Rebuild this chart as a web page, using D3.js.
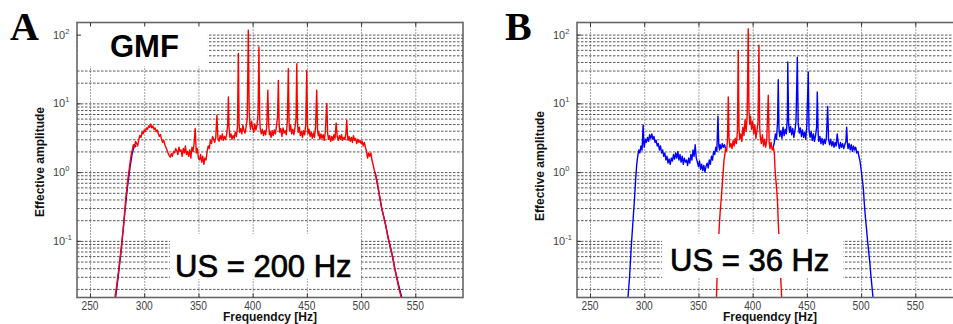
<!DOCTYPE html>
<html>
<head>
<meta charset="utf-8">
<script src="https://cdn.jsdelivr.net/npm/d3@7"></script>
<style>
  body { margin: 0; background: #fff; }
  svg { display: block; }
</style>
</head>
<body>
<script>
// axis setup
const freqDomain = [238, 594];
const ampDomain = [0.015, 150];
const freqTicks = [250, 300, 350, 400, 450, 500, 550];
const ampExponents = [-1, 0, 1, 2];

// panel A (US = 200 Hz) : [frequency Hz, effective amplitude]
const panelARed = [
  [273,0.015],[275,0.025],[277,0.045],[279,0.085],[281,0.17],[283,0.42],[285,0.8],[287,1.4],[288,1.8],[289,2.1],
  [290,2.5],[291,2.3],[292,2.8],[293,2.6],[294,2.4],[295,3.0],[296,3.4],[297,3.2],[298,3.8],[299,3.6],
  [300,4.1],[301,3.9],[302,4.4],[303,4.2],[304,4.7],[305,4.5],[306,5.0],[307,4.4],[308,4.7],[309,4.2],
  [310,4.4],[311,3.9],[312,4.1],[313,3.6],[314,3.3],[315,3.5],[316,3.0],[317,2.7],[318,2.9],[319,2.5],
  [320,2.3],[321,2.1],[322,1.9],[323,1.75],[324,1.65],[325,1.85],[326,1.7],[327,2.0],[328,1.9],[329,2.2],
  [330,2.05],[331,1.8],[332,2.3],[333,2.0],[334,2.1],[335,1.7],[336,2.2],[337,1.9],[338,2.4],[339,1.8],
  [340,2.0],[341,1.7],[342,2.1],[343,1.6],[344,2.3],[345,2.0],[346,2.6],[347,4.3],[348,1.9],[349,2.2],
  [350,1.6],[351,1.5],[352,1.8],[353,1.4],[354,1.7],[355,1.3],[356,1.6],[357,1.5],[358,2.0],[359,2.4],
  [360,2.2],[361,2.9],[362,2.6],[363,3.3],[364,3.0],[365,2.7],[366,3.2],[367,6.7],[368,3.1],[369,2.8],
  [370,3.4],[371,3.0],[372,3.6],[373,2.9],[374,3.3],[375,3.0],[376,3.5],[377,5.0],[377.6,12.4],[378.2,4.5],
  [379,3.2],[380,3.6],[381,3.0],[382,3.4],[383,3.1],[384,3.8],[385,3.3],[386,4.5],[386.8,53],[387.5,5.0],
  [388,3.8],[389,4.3],[390,3.6],[391,4.8],[392,4.0],[393,3.7],[394,4.6],[395,6.0],[396,116],[396.8,7.5],
  [397.5,5.0],[398,4.2],[399,5.5],[400,4.4],[401,3.8],[402,5.0],[403,4.1],[404,4.8],[405,7.0],[405.8,66],
  [406.5,6.0],[407,4.3],[408,3.6],[409,4.2],[410,3.4],[411,4.0],[412,3.5],[413,4.6],[414,15.6],[414.8,4.9],
  [415.5,3.5],[416,3.9],[417,3.2],[418,4.0],[419,3.4],[420,4.1],[421,3.6],[422,4.7],[423,6.5],[423.7,21.6],
  [424.4,5.0],[425,3.8],[426,4.3],[427,3.3],[428,4.4],[429,3.7],[430,4.0],[431,3.5],[432,5.5],[432.9,32],
  [433.6,5.5],[434,4.0],[435,4.8],[436,3.6],[437,4.2],[438,3.5],[439,4.4],[440,6.0],[440.7,37.8],[441.4,5.0],
  [442,3.8],[443,4.5],[444,3.4],[445,3.9],[446,3.2],[447,4.0],[448,3.5],[449,5.0],[449.9,30],[450.6,4.8],
  [451,3.6],[452,4.2],[453,3.3],[454,3.8],[455,3.1],[456,3.7],[457,3.2],[458,4.5],[459.1,15.6],[459.8,4.2],
  [460.5,3.4],[461,3.9],[462,3.0],[463,3.6],[464,3.1],[465,3.5],[466,2.9],[467,3.8],[468.4,10],[469.2,3.6],
  [470,3.0],[471,3.4],[472,2.8],[473,3.3],[474,2.9],[475,3.5],[476,3.1],[477,5.2],[478,3.3],[479,2.9],
  [480,3.4],[481,3.0],[482,3.5],[483,2.9],[484,3.2],[485,3.0],[486,3.6],[486.8,5.7],[487.6,3.2],[488,2.9],
  [489,3.3],[490,2.8],[491,3.2],[492,2.7],[493,3.4],[494,2.9],[495,3.1],[496,2.6],[497,3.0],[498,2.7],
  [499,2.9],[500,2.6],[501,2.8],[502,2.4],[503,2.7],[504,2.3],[505,2.0],[506,1.6],[507,1.9],[508,1.7],
  [509,1.9],[510,1.5],[511,1.3],[512,1.1],[513,0.95],[515,0.7],[517,0.45],[519,0.3],[521,0.22],[523,0.16],
  [525,0.11],[527,0.08],[529,0.06],[531,0.04],[533,0.028],[535,0.02],[537,0.015]
];
// blue trace of panel A only shows along the two steep edges
const panelABlueRise = [
  [273.6,0.015],[276,0.03],[279,0.08],[282,0.25],[284.5,0.6],[287,1.2],[289,1.9],[291,2.5],[292.5,2.3]
];
const panelABlueFall = [
  [513,1.0],[516,0.55],[519,0.3],[522,0.19],[525,0.11],[528,0.07],[531,0.04],[534,0.025],[537.5,0.015]
];

// panel B (US = 36 Hz); blue is hidden under the red band between ~375 and ~419 Hz
const panelBBlueLow = [
  [285,0.015],[286.5,0.03],[288,0.08],[289.5,0.18],[291,0.4],[292,0.75],[293,1.25],[294,1.7],[295,2.1],[296,1.9],
  [297,2.4],[298,2.1],[299,4.8],[299.6,2.6],[300,2.3],[301,3.0],[302,2.7],[303,3.2],[304,2.8],[305,3.5],
  [306,3.1],[307,3.6],[308,3.0],[309,3.3],[310,2.7],[311,2.9],[312,2.4],[313,2.6],[314,2.1],[315,2.4],
  [316,1.9],[317,2.1],[318,1.7],[319,1.9],[320,1.5],[321,1.7],[322,1.35],[323,1.55],[324,1.3],[325,1.6],
  [326,1.45],[327,1.8],[328,1.55],[329,1.9],[330,1.6],[331,2.0],[332,1.5],[333,1.8],[334,1.4],[335,1.7],
  [336,1.3],[337,1.6],[338,1.4],[339,1.5],[340,1.25],[341,1.6],[342,1.35],[343,1.8],[344,1.5],[345,2.1],
  [346,1.7],[347,2.5],[348,1.6],[349,1.4],[350,1.2],[351,1.45],[352,1.1],[353,1.3],[354,1.05],[355,1.25],
  [356,1.0],[357,1.2],[358,1.35],[359,1.15],[360,1.5],[361,1.3],[362,1.7],[363,1.5],[364,2.0],[365,1.8],
  [366,2.3],[367,2.0],[368,6.5],[368.8,2.4],[369.5,2.1],[370,2.5],[371,2.2],[372,2.6],[373,2.3],[374,2.5],
  [375,2.2]
];
const panelBBlueHigh = [
  [419,2.3],[420,2.7],[421,3.6],[422,3.0],[423,5.5],[423.6,22],
  [424.3,4.2],[425,3.3],[426,4.0],[427,3.1],[428,4.5],[429,3.4],[430,4.2],[431,3.6],[432,6.0],[432.4,40],
  [433.2,5.0],[434,3.8],[435,4.6],[436,3.5],[437,4.3],[438,3.2],[439,4.0],[440,5.5],[441.2,47],[442,5.2],
  [443,3.7],[444,4.4],[445,3.3],[446,4.1],[447,3.2],[448,3.8],[449,3.0],[450,5.0],[451.3,28.6],[452,4.0],
  [453,3.2],[454,3.9],[455,2.9],[456,3.6],[457,2.8],[458,3.4],[459,4.5],[459.6,14.6],[460.4,3.6],[461,2.8],
  [462,3.3],[463,2.6],[464,3.1],[465,2.5],[466,3.0],[467,2.6],[468,3.2],[469.2,9],[470,3.0],[471,2.5],
  [472,3.0],[473,2.4],[474,2.8],[475,2.3],[476,2.7],[477,2.4],[478,3.6],[479,2.6],[480,2.2],[481,2.7],
  [482,2.3],[483,2.6],[484,2.2],[485,2.5],[486,2.8],[486.7,4.5],[487.5,2.5],[488,2.2],[489,2.6],[490,2.1],
  [491,2.5],[492,2.0],[493,2.4],[494,2.1],[495,2.3],[496,1.9],[497,2.0],[498,1.7],[499,1.45],[500,1.1],
  [501,0.8],[502,0.6],[503,0.35],[504,0.22],[505,0.15],[506,0.1],[507,0.07],[508,0.05],[509,0.032],[510,0.022],
  [511,0.015]
];
const panelBRed = [
  [366.6,0.015],[367.5,0.04],[368.3,0.09],[369.2,0.16],[370,0.26],[370.8,0.37],[371.8,0.6],[372.8,1.0],[373.6,1.5],[374.4,1.8],
  [375,2.2],[376,2.0],[376.8,3.0],[377.5,12.4],[378.2,3.2],[379,2.3],[380,2.6],[381,2.2],[382,2.9],[383,2.4],
  [384,3.1],[385,2.6],[386,4.0],[386.7,59],[387.4,4.5],[388,3.0],[389,3.6],[390,2.8],[391,4.5],[392,3.4],
  [393,5.8],[394,3.9],[395,7.0],[395.9,122],[396.6,8.0],[397.3,5.0],[398,6.5],[399,4.2],[400,5.5],[401,3.6],
  [402,4.8],[403,3.1],[404,4.0],[405,5.5],[405.8,70],[406.5,4.5],[407,3.3],[408,2.6],[409,3.5],[410,2.4],
  [411,3.0],[412,2.3],[413,2.9],[414.4,13.1],[415.2,2.8],[416,2.2],[417,2.7],[418,2.1],[419,2.3],[420,1.9],
  [420.6,1.13],[421.5,0.75],[422.2,0.55],[423,0.35],[423.6,0.19],[424.3,0.11],[425,0.06],[425.8,0.03],[426.8,0.015]
];

const W = 953, H = 324;
const plotTop = 22.5, plotBottom = 297.5, plotWidth = 386;
const FONT = 'Arial, "Liberation Sans", Helvetica, sans-serif';

const svg = d3.select('body').append('svg')
  .attr('width', W)
  .attr('height', H)
  .attr('xmlns', 'http://www.w3.org/2000/svg');

function drawPanel(p) {
  const x = d3.scaleLinear().domain(freqDomain).range([p.left, p.left + plotWidth]);
  const y = d3.scaleLog().domain(ampDomain).range([plotBottom, plotTop]);
  const g = svg.append('g');

  svg.append('clipPath').attr('id', 'clip' + p.id)
    .append('rect')
    .attr('x', p.left).attr('y', plotTop)
    .attr('width', plotWidth).attr('height', plotBottom - plotTop);

  // grid lines (matlab style dotted)
  g.append('g')
    .attr('transform', `translate(0,${plotBottom})`)
    .call(d3.axisBottom(x).tickValues(freqTicks).tickSize(-(plotBottom - plotTop)).tickFormat(''))
    .call(s => s.select('.domain').remove())
    .selectAll('line')
    .attr('stroke', '#444')
    .attr('stroke-dasharray', '1,2');

  g.append('g')
    .attr('transform', `translate(${p.left},0)`)
    .call(d3.axisLeft(y).tickValues(y.ticks()).tickSize(-plotWidth).tickFormat(''))
    .call(s => s.select('.domain').remove())
    .selectAll('line')
    .attr('stroke', '#5a5a5a')
    .attr('stroke-dasharray', '2.5,1.5');

  // data lines
  const line = d3.line()
    .x(d => x(d[0]))
    .y(d => y(d[1]));

  const lines = g.append('g').attr('clip-path', `url(#clip${p.id})`);
  p.series.forEach(s => {
    lines.append('path')
      .datum(s.data)
      .attr('fill', 'none')
      .attr('stroke', s.color)
      .attr('stroke-width', 1.4)
      .attr('stroke-linejoin', 'round')
      .attr('d', line);
  });

  // white annotation boxes sit on top of grid and lines
  p.boxes.forEach(b => {
    g.append('rect')
      .attr('x', b.x).attr('y', b.y)
      .attr('width', b.w).attr('height', b.h)
      .attr('fill', '#fff');
    g.append('text')
      .attr('x', b.tx).attr('y', b.ty)
      .style('font-family', FONT)
      .style('font-size', b.size + 'px')
      .style('font-weight', b.weight)
      .attr('fill', '#000')
      .attr('stroke', '#000')
      .attr('stroke-width', b.weight === 'bold' ? 0 : 0.7)
      .text(b.text);
  });

  // axes box
  g.append('rect')
    .attr('x', p.left).attr('y', plotTop)
    .attr('width', plotWidth).attr('height', plotBottom - plotTop)
    .attr('fill', 'none')
    .attr('stroke', '#666')
    .attr('stroke-width', 1.6);

  // inward tick marks
  g.append('g')
    .attr('transform', `translate(0,${plotBottom})`)
    .call(d3.axisBottom(x).tickValues(freqTicks).tickSize(-4).tickFormat(''))
    .call(s => s.select('.domain').remove())
    .selectAll('line').attr('stroke', '#333');
  g.append('g')
    .attr('transform', `translate(0,${plotTop})`)
    .call(d3.axisTop(x).tickValues(freqTicks).tickSize(-4).tickFormat(''))
    .call(s => s.select('.domain').remove())
    .selectAll('line').attr('stroke', '#333');
  g.append('g')
    .attr('transform', `translate(${p.left},0)`)
    .call(d3.axisLeft(y).tickValues(ampExponents.map(e => Math.pow(10, e))).tickSize(-4).tickFormat(''))
    .call(s => s.select('.domain').remove())
    .selectAll('line').attr('stroke', '#333');

  // x tick labels
  freqTicks.forEach(f => {
    g.append('text')
      .attr('transform', `translate(${x(f)},309.5) scale(0.85,1)`)
      .attr('text-anchor', 'middle')
      .style('font-family', FONT)
      .style('font-size', '12px')
      .attr('fill', '#444')
      .text(f);
  });

  // y tick labels 10^n
  ampExponents.forEach(e => {
    const ty = y(Math.pow(10, e));
    const lab = g.append('text')
      .attr('x', p.left - 24)
      .attr('y', ty + 4)
      .style('font-family', FONT)
      .style('font-size', '11px')
      .attr('fill', '#444');
    lab.append('tspan').text('10');
    lab.append('tspan')
      .attr('dy', -5)
      .style('font-size', '7.5px')
      .text(e);
  });

  // axis titles
  g.append('text')
    .attr('transform', `translate(${p.left - 33},${p.yLabelY}) rotate(-90)`)
    .attr('text-anchor', 'middle')
    .style('font-family', FONT)
    .style('font-size', '12px')
    .style('font-weight', 'bold')
    .attr('fill', '#111')
    .text('Effective amplitude');

  g.append('text')
    .attr('x', p.left + plotWidth / 2)
    .attr('y', 321)
    .attr('text-anchor', 'middle')
    .style('font-family', FONT)
    .style('font-size', '12px')
    .style('font-weight', 'bold')
    .attr('fill', '#111')
    .text('Frequendcy [Hz]');

  // panel letter
  svg.append('text')
    .attr('x', p.letterX)
    .attr('y', 40)
    .style('font-family', '"Liberation Serif", "Times New Roman", serif')
    .style('font-size', '40px')
    .style('font-weight', 'bold')
    .attr('fill', '#000')
    .text(p.letter);
}

drawPanel({
  id: 'A', left: 77, letter: 'A', letterX: 10, yLabelY: 162,
  series: [
    { data: panelABlueRise, color: '#0000ff' },
    { data: panelABlueFall, color: '#0000ff' },
    { data: panelARed, color: '#ff0000' }
  ],
  boxes: [
    { x: 77.8, y: 23.3, w: 130, h: 43, text: 'GMF', tx: 110, ty: 57, size: 31, weight: 'bold' },
    { x: 170, y: 234, w: 190, h: 45, text: 'US = 200 Hz', tx: 175, ty: 277, size: 31, weight: 'normal' }
  ]
});

drawPanel({
  id: 'B', left: 577, letter: 'B', letterX: 505, yLabelY: 166,
  series: [
    { data: panelBBlueLow, color: '#0000ff' },
    { data: panelBBlueHigh, color: '#0000ff' },
    { data: panelBRed, color: '#ff0000' }
  ],
  boxes: [
    { x: 662, y: 234, w: 181, h: 44, text: 'US = 36 Hz', tx: 670, ty: 271, size: 31, weight: 'normal' }
  ]
});
</script>
</body>
</html>
